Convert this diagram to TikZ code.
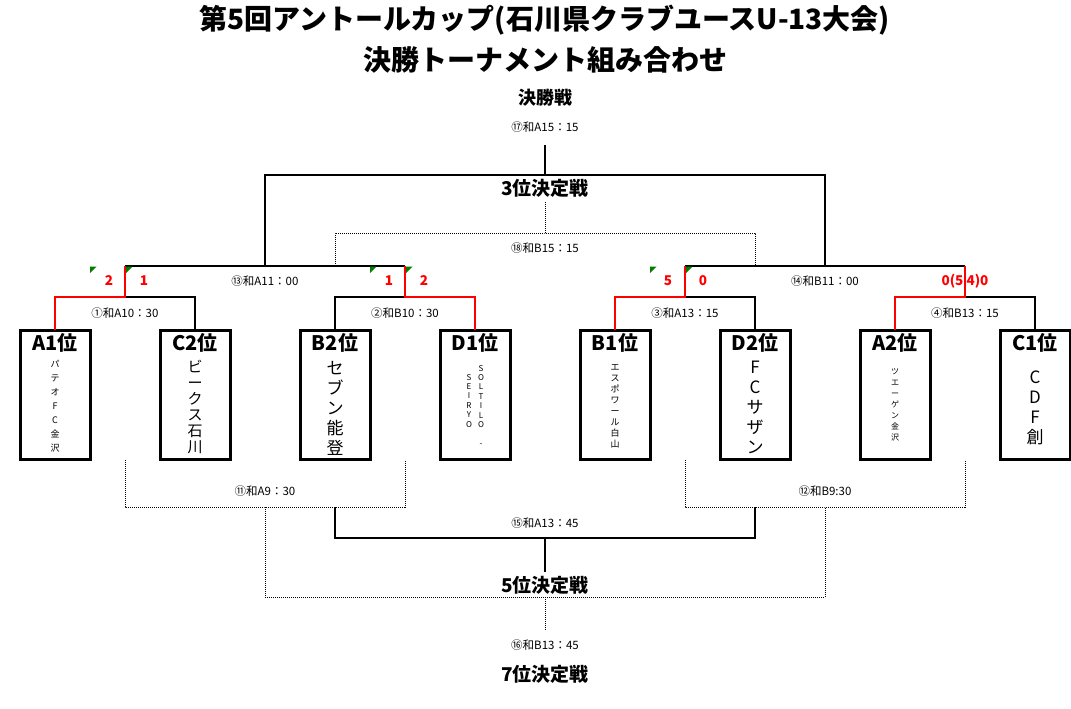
\documentclass[tikz,border=0pt]{standalone}
\usepackage{fontspec}
\setmainfont{Noto Sans CJK JP}
\usetikzlibrary{positioning,calc}
\tikzset{
    team/.style={draw, line width=3pt, minimum width=70pt, minimum height=129pt, inner sep=0pt, outer sep=0pt},
    head/.style={font=\bfseries\fontsize{20}{20}\selectfont, inner sep=0pt},
    player/.style={align=center, inner sep=0pt},
    link/.style={line width=1.2pt},
    win/.style={line width=2.6pt, red},
    loser/.style={line width=1pt, dash pattern=on 1pt off 1pt},
    slot/.style={font=\fontsize{11.5}{11.5}\selectfont, inner sep=0pt},
    score/.style={font=\bfseries\fontsize{13.5}{13.5}\selectfont, text=red, inner sep=0pt},
    round/.style={font=\bfseries\fontsize{19}{19}\selectfont, inner sep=0pt},
    flag/.style={fill=green!50!black}
}

\begin{document}
\begin{tikzpicture}[x=1pt, y=-1pt]
    \useasboundingbox (0,0) rectangle (1071,709);

    % Title
    \node[font=\bfseries\fontsize{28}{28}\selectfont, inner sep=0pt] (title1) at (545,20) {第5回アントールカップ(石川県クラブユースU-13大会)};
    \node[font=\bfseries\fontsize{28}{28}\selectfont, inner sep=0pt] (title2) at (545,60) {決勝トーナメント組み合わせ};

    % Teams
    \node[team] (a1) at (55,394.5) {};
    \node[team, right=70pt of a1] (c2) {};
    \node[team, right=70pt of c2] (b2) {};
    \node[team, right=70pt of b2] (d1) {};
    \node[team, right=70pt of d1] (b1) {};
    \node[team, right=70pt of b1] (d2) {};
    \node[team, right=70pt of d2] (a2) {};
    \node[team, right=70pt of a2] (c1) {};

    \node[head, below=3pt of a1.north] (a1h) {A1位};
    \node[head, below=3pt of c2.north] (c2h) {C2位};
    \node[head, below=3pt of b2.north] (b2h) {B2位};
    \node[head, below=3pt of d1.north] (d1h) {D1位};
    \node[head, below=3pt of b1.north] (b1h) {B1位};
    \node[head, below=3pt of d2.north] (d2h) {D2位};
    \node[head, below=3pt of a2.north] (a2h) {A2位};
    \node[head, below=3pt of c1.north] (c1h) {C1位};

    \node[player, font=\fontsize{9}{14}\selectfont] (a1n) at (55,406) {パ\\テ\\オ\\F\\C\\金\\沢};
    \node[player, font=\fontsize{15}{16}\selectfont] (c2n) at (195,407) {ビ\\ー\\ク\\ス\\石\\川};
    \node[player, font=\fontsize{17}{20}\selectfont] (b2n) at (335,408) {セ\\ブ\\ン\\能\\登};
    \node[player, font=\fontsize{8}{9.4}\selectfont, anchor=north] (d1r) at (481,365) {S\\O\\L\\T\\I\\L\\O\\[9.4pt]-};
    \node[player, font=\fontsize{8}{9.4}\selectfont, anchor=north] (d1l) at (469,374) {S\\E\\I\\R\\Y\\O};
    \node[player, font=\fontsize{9}{11}\selectfont] (b1n) at (615,406.5) {エ\\ス\\ポ\\ワ\\ー\\ル\\白\\山};
    \node[player, font=\fontsize{17}{20}\selectfont] (d2n) at (755,407) {F\\C\\サ\\ザ\\ン};
    \node[player, font=\fontsize{8}{11}\selectfont] (a2n) at (895,405) {ツ\\エ\\ー\\ゲ\\ン\\金\\沢};
    \node[player, font=\fontsize{17}{20}\selectfont] (c1n) at (1035,407.5) {C\\D\\F\\創};

    % Round 1
    \coordinate (m1) at (125,297);
    \coordinate (m2) at (405,297);
    \coordinate (m3) at (685,297);
    \coordinate (m4) at (965,297);
    \coordinate (s1) at (125,266);
    \coordinate (s2) at (405,266);
    \coordinate (s3) at (685,266);
    \coordinate (s4) at (965,266);

    \draw[link] (c2.north) |- (m1);
    \draw[link] (b2.north) |- (m2);
    \draw[link] (d2.north) |- (m3);
    \draw[link] (c1.north) |- (m4);

    \node[slot] (g1) at (125,313) {①和A10：30};
    \node[slot] (g2) at (405,313) {②和B10：30};
    \node[slot] (g3) at (685,313) {③和A13：15};
    \node[slot] (g4) at (965,313) {④和B13：15};

    % Semi finals
    \coordinate (sf1) at (265,266);
    \coordinate (sf2) at (825,266);
    \draw[link] (s1) -- (s2);
    \draw[link] (s3) -- (s4);

    \node[slot] (g13) at (265,281) {⑬和A11：00};
    \node[slot] (g14) at (825,281) {⑭和B11：00};

    % winners
    \draw[win] (a1.north) |- (m1) -- (s1);
    \draw[win] (d1.north) |- (m2) -- (s2);
    \draw[win] (b1.north) |- (m3) -- (s3);
    \draw[win] (a2.north) |- (m4) -- (s4);

    \node[score] at (109,281) {2};
    \node[score] at (144,281) {1};
    \node[score] at (389,281) {1};
    \node[score] at (424,281) {2};
    \node[score] at (668,281) {5};
    \node[score] at (703,281) {0};
    \node[score] at (965,281) {0(5 4)0};

    \foreach \fx in {90,126,370,406,650,686}
        \fill[flag] (\fx,266.6) -- ++(6.5,0) -- ++(-6.5,6.5) -- cycle;

    % Final
    \coordinate (fin) at (545,175);
    \coordinate (fintop) at (545,145);
    \draw[link] (sf1) |- (fin) -| (sf2);
    \draw[link] (fin) -- (fintop);
    \node[slot] (g17) at (545,127) {⑰和A15：15};
    \node[font=\bfseries\fontsize{18}{18}\selectfont, inner sep=0pt] (final) at (545,98) {決勝戦};

    % 3rd place
    \coordinate (t1) at (335,266);
    \coordinate (t2) at (755,266);
    \coordinate (thr) at (545,233);
    \coordinate (thrtop) at (545,201);
    \draw[loser] (t1) |- (thr) -| (t2);
    \draw[loser] (thr) -- (thrtop);
    \node[round] (third) at (545,188) {3位決定戦};
    \node[slot] (g18) at (545,248) {⑱和B15：15};

    % Consolation
    \coordinate (l1) at (125,460);
    \coordinate (l2) at (405,460);
    \coordinate (l3) at (685,460);
    \coordinate (l4) at (965,460);
    \coordinate (c11) at (265,507);
    \coordinate (c12) at (825,507);
    \draw[loser] (l1) |- (c11) -| (l2);
    \draw[loser] (l3) |- (c12) -| (l4);
    \node[slot] (g11) at (265,491) {⑪和A9：30};
    \node[slot] (g12) at (825,491) {⑫和B9:30};

    \coordinate (q1) at (335,507);
    \coordinate (q2) at (755,507);
    \coordinate (c15) at (545,538);
    \coordinate (c15b) at (545,572);
    \draw[link] (q1) |- (c15) -| (q2);
    \draw[link] (c15) -- (c15b);
    \node[slot] (g15) at (545,523) {⑮和A13：45};
    \node[round] (fifth) at (545,585) {5位決定戦};

    \coordinate (c16) at (545,597);
    \coordinate (c16b) at (545,630);
    \draw[loser] (c11) |- (c16) -| (c12);
    \draw[loser] (c16) -- (c16b);
    \node[slot] (g16) at (545,645) {⑯和B13：45};
    \node[round] (seventh) at (545,674) {7位決定戦};
\end{tikzpicture}
\end{document}
